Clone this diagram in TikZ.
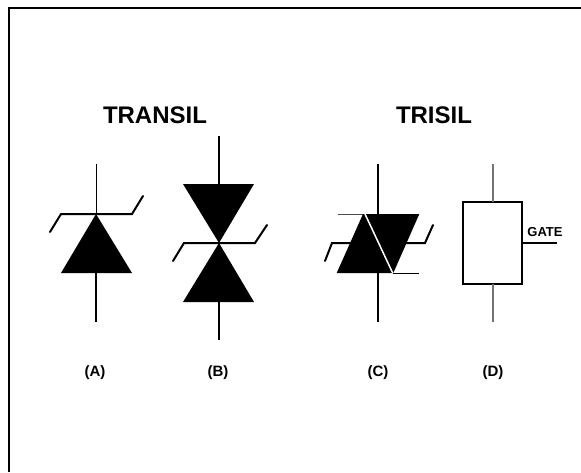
\documentclass[tikz,border=0pt]{standalone}
\usepackage{fontspec}
\setmainfont{Liberation Sans}
\usetikzlibrary{positioning}
\tikzset{
  lead/.style={line width=1.5pt},
  bar/.style={line width=2pt,line join=miter,line cap=round},
  diode/.style={fill=black,draw=none},
  title/.style={font=\bfseries\fontsize{24}{24}\selectfont},
  tag/.style={font=\bfseries\fontsize{15}{16}\selectfont}
}
\begin{document}
\begin{tikzpicture}[x=1pt,y=-1pt]
  \useasboundingbox (0,0) rectangle (581,472);
  \draw[line width=1.8pt] (8.7,472) |- (581,8);
  \node[title] (transil) at (155,115) {TRANSIL};
  \node[title] (trisil) at (434,115) {TRISIL};
  % symbol A
  \coordinate (a1) at (96,164);
  \coordinate (a2) at (96,214);
  \coordinate (a3) at (96,273);
  \coordinate (a4) at (96,322);
  \draw[line width=1pt] (a1) -- (a2);
  \draw[lead] (a3) -- (a4);
  \fill[diode] (a2) -- (132,273) -- (61,273) -- cycle;
  \draw[bar] (50,232) -- (61,214) -- (132,214) -- (143,196);
  % symbol B
  \coordinate (b1) at (219,136);
  \coordinate (b2) at (219,184);
  \coordinate (b3) at (219,243);
  \coordinate (b4) at (219,302);
  \coordinate (b5) at (219,340);
  \draw[lead] (b1) -- (b2) (b4) -- (b5);
  \fill[diode] (183,184) -- (254,184) -- (b3) -- cycle;
  \fill[diode] (183,302) -- (254,302) -- (b3) -- cycle;
  \draw[bar] (173,261) -- (184,243) -- (255,243) -- (267,225);
  % symbol C
  \coordinate (c1) at (378,164);
  \coordinate (c2) at (378,214);
  \coordinate (c3) at (378,273);
  \coordinate (c4) at (378,322);
  \draw[lead] (c1) -- (c2) (c3) -- (c4);
  \draw[bar] (325,261) -- (332,243) -- (352,243);
  \draw[bar] (405,243) -- (425,243) -- (433,225);
  \draw[line width=1pt,black!70] (338,214) -- (419,214);
  \draw[line width=1pt] (393,273) -- (419,273);
  \fill[diode] (363,214) -- (419.3,214) -- (393.3,273) -- (336.7,273) -- cycle;
  \draw[white,line width=1.5pt] (365,214) -- (392.7,273);
  % symbol D
  \node[draw,line width=1.5pt,minimum width=59pt,minimum height=82pt,inner sep=0pt,outer sep=0pt] (gatebox) at (492.5,243) {};
  \coordinate (d1) at (493,164);
  \coordinate (d2) at (493,322);
  \coordinate (g1) at (557,243);
  \draw[lead,black!55] (d1) -- (d1 |- gatebox.north) (d2) -- (d2 |- gatebox.south);
  \draw[line width=1.2pt] (gatebox.east) -- (g1);
  \node[font=\bfseries\fontsize{13}{13}\selectfont] (gate) at (545,232) {GATE};
  % labels
  \node[tag] (la) at (95,373) {(A)};
  \node[tag] (lb) at (218,373) {(B)};
  \node[tag] (lc) at (378,373) {(C)};
  \node[tag] (ld) at (493,373) {(D)};
\end{tikzpicture}
\end{document}
